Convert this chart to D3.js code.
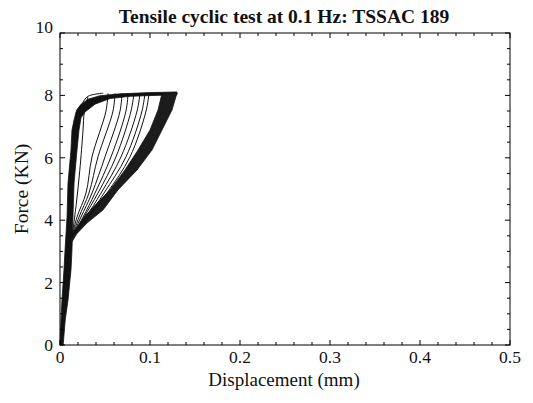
<!DOCTYPE html>
<html><head><meta charset="utf-8">
<script src="https://cdn.jsdelivr.net/npm/d3@7"></script>
<style>
html,body{margin:0;padding:0;background:#fff;}
svg{display:block;}
text{font-family:"Liberation Serif","Times New Roman",serif;fill:#111;}
</style></head>
<body>
<svg id="chart" width="533" height="403"></svg>
<script>
// ---- data (displacement mm, force kN) ----
const xTicks = [0, 0.1, 0.2, 0.3, 0.4, 0.5];
const xTickLabels = ["0", "0.1", "0.2", "0.3", "0.4", "0.5"];
const yTicks = [0, 2, 4, 6, 8, 10];
const yTickLabels = ["0", "2", "4", "6", "8", "10"];
const xMinor = [0.02,0.04,0.06,0.08,0.12,0.14,0.16,0.18,0.22,0.24,0.26,0.28,0.32,0.34,0.36,0.38,0.42,0.44,0.46,0.48];
const yMinor = [0.5,1,1.5,2.5,3,3.5,4.5,5,5.5,6.5,7,7.5,8.5,9,9.5];

// loading envelope (thick band, many overlapping reloading paths)
const loadLeftEdge = [[0,0],[0.0011,0.8],[0.0022,1.44],[0.0044,2.4],[0.0056,3.04],[0.0078,4.1],[0.0089,5.19],[0.0122,6.25],[0.0133,6.89],[0.0156,7.21],[0.0178,7.47],[0.0222,7.68],[0.0311,7.88],[0.0444,7.99],[0.0667,8.05],[0.1,8.09],[0.13,8.11]];
const loadRightEdge = [[0.0035,0],[0.0058,0.8],[0.0089,1.44],[0.0122,2.4],[0.0133,3.04],[0.0144,4.1],[0.0156,5.19],[0.0189,6.25],[0.0211,6.89],[0.0233,7.28],[0.0278,7.47],[0.0389,7.72],[0.0556,7.9],[0.0778,7.97],[0.1056,8.0],[0.13,8.02]];

// dense band of late unloading curves
const bandOuter = [[0.130,8.08],[0.1244,7.53],[0.1133,6.89],[0.1022,6.25],[0.0856,5.61],[0.0644,4.97],[0.0478,4.33],[0.0300,3.91],[0.0185,3.56],[0.0125,3.27]];
const bandInner = [[0.1133,8.06],[0.1089,7.53],[0.1000,6.89],[0.0867,6.25],[0.0722,5.61],[0.0556,4.97],[0.0370,4.42],[0.0260,4.07],[0.0170,3.69],[0.0120,3.37]];

// first cycle
const firstLoad = [[0.0178,7.5],[0.024,7.72],[0.031,7.97],[0.048,8.07]];
const firstUnload = [[0.031,7.95],[0.027,7.47],[0.0256,6.89],[0.022,5.6],[0.018,4.5],[0.0133,3.45]];

// individual unloading curves of intermediate cycles
const unload1 = [[0.0533,8.07],[0.0511,7.5],[0.0356,6.03],[0.0289,4.87],[0.0189,4.1],[0.0133,3.45]];
const unload2 = [[0.0611,8.07],[0.0589,7.5],[0.0422,6.03],[0.0322,4.87],[0.0211,4.1],[0.0133,3.45]];
const unload3 = [[0.0689,8.07],[0.0667,7.5],[0.0500,6.03],[0.0356,4.87],[0.0233,4.1],[0.0133,3.45]];
const unload4 = [[0.0756,8.07],[0.0733,7.5],[0.0567,6.03],[0.0389,4.87],[0.0256,4.1],[0.0133,3.45]];
const unload5 = [[0.0822,8.07],[0.0789,7.5],[0.0622,6.03],[0.0422,4.87],[0.0267,4.1],[0.0133,3.45]];
const unload6 = [[0.0889,8.07],[0.0856,7.5],[0.0678,6.03],[0.0456,4.87],[0.0289,4.1],[0.0133,3.45]];
const unload7 = [[0.0944,8.07],[0.0911,7.5],[0.0733,6.03],[0.0489,4.87],[0.0311,4.1],[0.0133,3.45]];
const unload8 = [[0.0989,8.07],[0.0956,7.5],[0.0778,6.03],[0.0522,4.87],[0.0322,4.1],[0.0133,3.45]];
const unloadCurves = [unload1, unload2, unload3, unload4, unload5, unload6, unload7, unload8];

// ---- layout ----
const svg = d3.select("#chart");
const L = 60, R = 510, T = 33, B = 345;
const x = d3.scaleLinear().domain([0, 0.5]).range([L, R]);
const y = d3.scaleLinear().domain([0, 10]).range([B, T]);

const line = d3.line().x(d => x(d[0])).y(d => y(d[1])).curve(d3.curveCatmullRom.alpha(0.5));
const poly = d3.line().x(d => x(d[0])).y(d => y(d[1])).curve(d3.curveLinearClosed);

const plot = svg.append("g");

// bands
plot.append("path").attr("d", poly(loadLeftEdge.concat(loadRightEdge.slice().reverse())))
  .attr("fill", "#111").attr("stroke", "#111").attr("stroke-width", 0.8);
plot.append("path").attr("d", poly(bandOuter.concat(bandInner.slice().reverse())))
  .attr("fill", "#1c1c1c").attr("stroke", "#111").attr("stroke-width", 0.8);

// thin curves
[firstLoad, firstUnload].concat(unloadCurves).forEach(c => {
  plot.append("path").attr("d", line(c)).attr("fill", "none")
    .attr("stroke", "#111").attr("stroke-width", 1);
});

// ---- axes frame & ticks ----
const ax = svg.append("g").attr("stroke", "#000").attr("stroke-width", 1);
ax.append("rect").attr("x", L).attr("y", T).attr("width", R - L).attr("height", B - T)
  .attr("fill", "none");
xTicks.forEach(v => {
  ax.append("line").attr("x1", x(v)).attr("x2", x(v)).attr("y1", B).attr("y2", B - 5);
  ax.append("line").attr("x1", x(v)).attr("x2", x(v)).attr("y1", T).attr("y2", T + 5);
});
xMinor.forEach(v => {
  ax.append("line").attr("x1", x(v)).attr("x2", x(v)).attr("y1", B).attr("y2", B - 3);
  ax.append("line").attr("x1", x(v)).attr("x2", x(v)).attr("y1", T).attr("y2", T + 3);
});
yTicks.forEach(v => {
  ax.append("line").attr("x1", L).attr("x2", L + 5).attr("y1", y(v)).attr("y2", y(v));
  ax.append("line").attr("x1", R).attr("x2", R - 5).attr("y1", y(v)).attr("y2", y(v));
});
yMinor.forEach(v => {
  ax.append("line").attr("x1", L).attr("x2", L + 3).attr("y1", y(v)).attr("y2", y(v));
  ax.append("line").attr("x1", R).attr("x2", R - 3).attr("y1", y(v)).attr("y2", y(v));
});

// tick labels
svg.append("g").selectAll("text").data(xTicks).join("text")
  .attr("x", d => x(d)).attr("y", 363).attr("text-anchor", "middle")
  .attr("font-size", 17.5).text((d, i) => xTickLabels[i]);
svg.append("g").selectAll("text").data(yTicks).join("text")
  .attr("x", 53).attr("y", d => y(d) + (d === 10 ? -0.5 : 6)).attr("text-anchor", "end")
  .attr("font-size", 17.5).text((d, i) => yTickLabels[i]);

// titles
svg.append("text").attr("x", 284).attr("y", 23).attr("text-anchor", "middle")
  .attr("font-size", 19.5).attr("font-weight", "bold").text("Tensile cyclic test at 0.1 Hz: TSSAC 189");
svg.append("text").attr("x", 284).attr("y", 386).attr("text-anchor", "middle")
  .attr("font-size", 19).text("Displacement (mm)");
svg.append("text").attr("transform", "translate(28,189) rotate(-90)").attr("text-anchor", "middle")
  .attr("font-size", 19.5).text("Force (KN)");
</script>
</body></html>
